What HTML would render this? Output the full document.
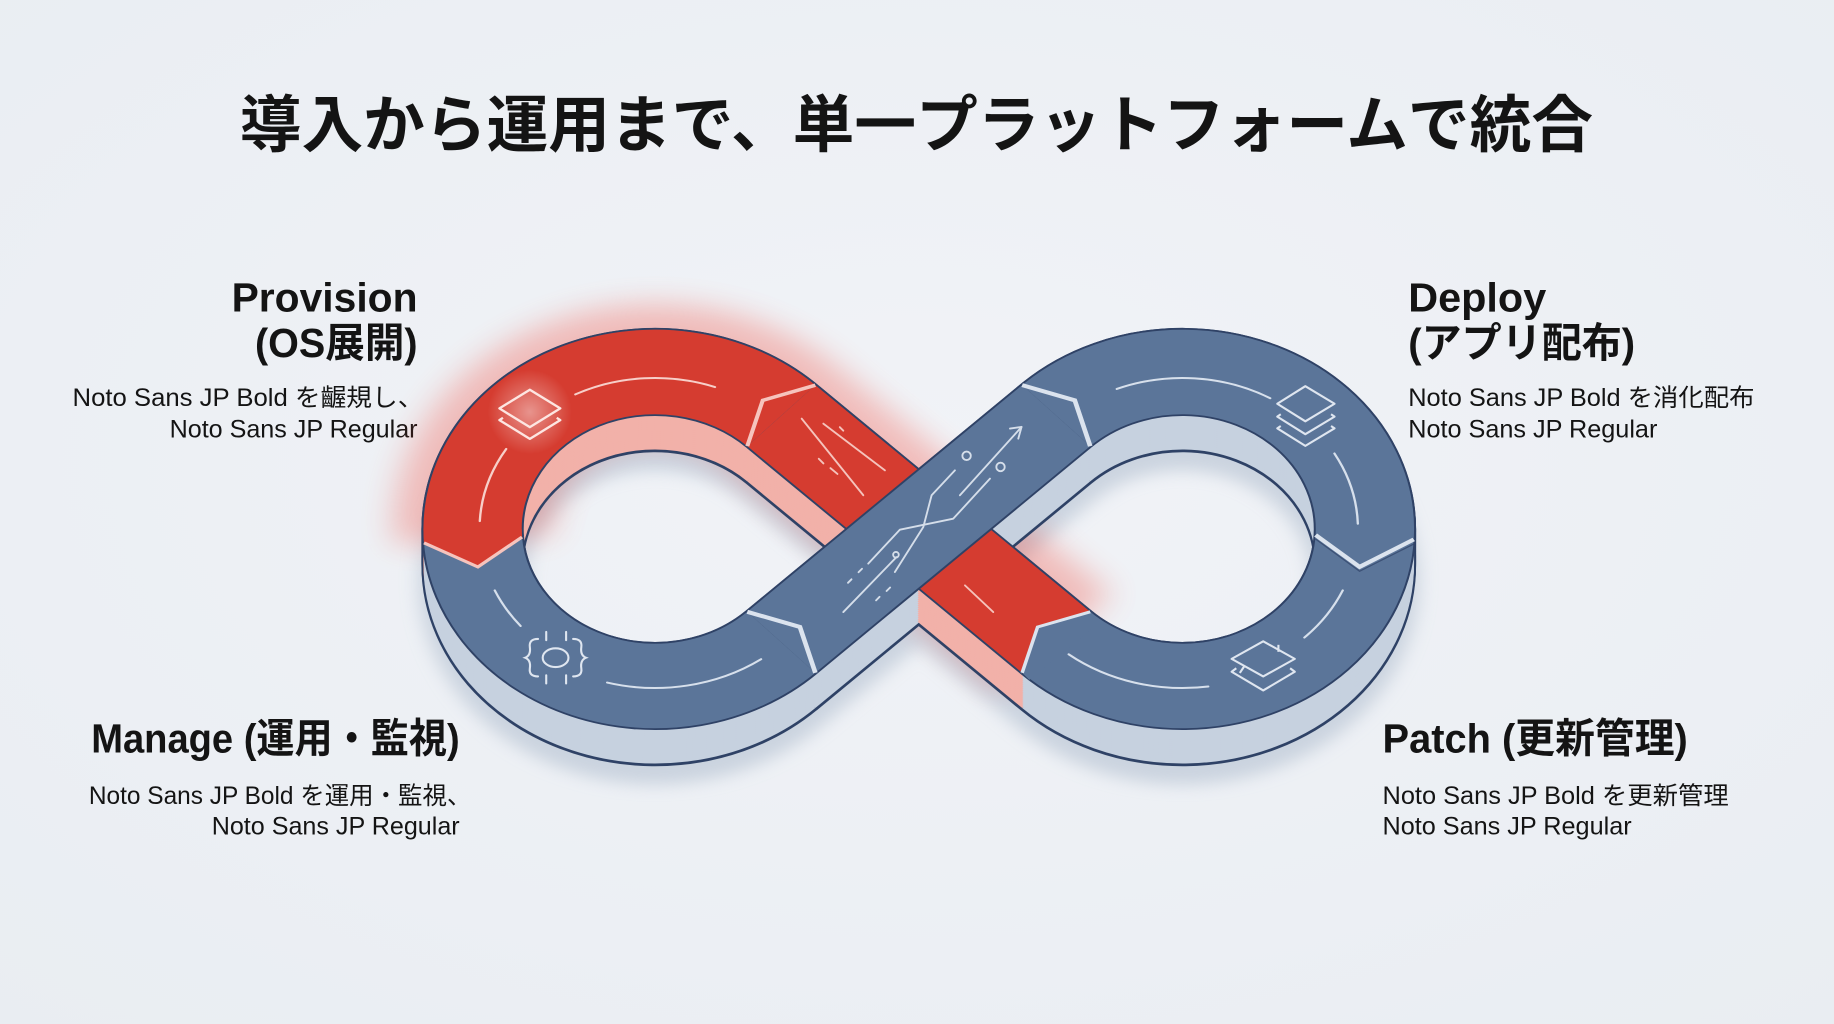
<!DOCTYPE html>
<html><head><meta charset="utf-8"><style>
html,body{margin:0;padding:0;background:#eef1f5;overflow:hidden;}
svg{display:block;}
text{font-family:"Liberation Sans","Noto Sans CJK JP",sans-serif;fill:#141414;}
</style></head><body>
<svg width="1834" height="1024" viewBox="0 0 1568 875" preserveAspectRatio="none" xmlns="http://www.w3.org/2000/svg">
<defs>
<path id="pAll" d="M668,564.6 L903,339.4 A156,156 0 1 1 903,564.6 L668,339.4 A156,156 0 1 0 668,564.6 Z"/>
<path id="pA" d="M668,564.6 L903,339.4"/>
<path id="pB" d="M903,339.4 A156,156 0 1 1 903,564.6"/>
<path id="pC" d="M903,564.6 L668,339.4"/>
<path id="pDr" d="M668,339.4 A156,156 0 0 0 404.4,462.9"/>
<path id="pDb" d="M404.4,462.9 A156,156 0 0 0 668,564.6"/>
<g id="wallSet" fill="none" stroke-width="84">
<use href="#pA" stroke="#c6d1df"/><use href="#pB" stroke="#c6d1df"/><use href="#pDb" stroke="#c6d1df"/>
<use href="#pDr" stroke="#f2b1a9"/><use href="#pC" stroke="#f2b1a9"/>
</g>
<filter id="blurA" filterUnits="userSpaceOnUse" x="-200" y="-200" width="2000" height="1400"><feGaussianBlur stdDeviation="14"/></filter>
<filter id="blurB" filterUnits="userSpaceOnUse" x="-200" y="-200" width="2000" height="1400"><feGaussianBlur stdDeviation="8"/></filter>
<radialGradient id="spot" cx="0.5" cy="0.5" r="0.5"><stop offset="0" stop-color="#ffffff" stop-opacity="0.45"/><stop offset="1" stop-color="#ffffff" stop-opacity="0"/></radialGradient>
<radialGradient id="bg" cx="0.5" cy="0.45" r="0.75"><stop offset="0" stop-color="#f1f3f7"/><stop offset="1" stop-color="#e9edf2"/></radialGradient>
</defs>

<rect x="0" y="0" width="1568" height="875" fill="url(#bg)"/>

<!-- Title -->
<text x="205" y="125" font-size="53" font-weight="700" textLength="1157" lengthAdjust="spacingAndGlyphs">導入から運用まで、単一プラットフォームで統合</text>

<!-- Provision -->
<text x="198" y="266" font-size="35" font-weight="700" textLength="159" lengthAdjust="spacingAndGlyphs">Provision</text>
<text x="218" y="305" font-size="35" font-weight="700" textLength="139" lengthAdjust="spacingAndGlyphs">(OS展開)</text>
<text x="62" y="347" font-size="21" textLength="300" lengthAdjust="spacingAndGlyphs">Noto Sans JP Bold を齷規し、</text>
<text x="145" y="374" font-size="21" textLength="212" lengthAdjust="spacingAndGlyphs">Noto Sans JP Regular</text>

<!-- Deploy -->
<text x="1204" y="266" font-size="35" font-weight="700" textLength="118" lengthAdjust="spacingAndGlyphs">Deploy</text>
<text x="1204" y="305" font-size="35" font-weight="700" textLength="194" lengthAdjust="spacingAndGlyphs">(アプリ配布)</text>
<text x="1204" y="347" font-size="21" textLength="296" lengthAdjust="spacingAndGlyphs">Noto Sans JP Bold を消化配布</text>
<text x="1204" y="374" font-size="21" textLength="213" lengthAdjust="spacingAndGlyphs">Noto Sans JP Regular</text>

<!-- Manage -->
<text x="78" y="643" font-size="35" font-weight="700" textLength="315" lengthAdjust="spacingAndGlyphs">Manage (運用・監視)</text>
<text x="76" y="687" font-size="21" textLength="327" lengthAdjust="spacingAndGlyphs">Noto Sans JP Bold を運用・監視、</text>
<text x="181" y="713" font-size="21" textLength="212" lengthAdjust="spacingAndGlyphs">Noto Sans JP Regular</text>

<!-- Patch -->
<text x="1182" y="643" font-size="35" font-weight="700" textLength="261" lengthAdjust="spacingAndGlyphs">Patch (更新管理)</text>
<text x="1182" y="687" font-size="21" textLength="296" lengthAdjust="spacingAndGlyphs">Noto Sans JP Bold を更新管理</text>
<text x="1182" y="713" font-size="21" textLength="213" lengthAdjust="spacingAndGlyphs">Noto Sans JP Regular</text>

<!-- Infinity figure (unsquashed coordinates, squashed vertically) -->
<g transform="matrix(1 0 0 0.86 0 63.28)">
  <!-- drop shadow -->
  <use href="#pAll" y="52" fill="none" stroke="#bcc7d6" stroke-width="92" opacity="0.7" filter="url(#blurB)"/>
  <!-- red glow -->
  <g fill="none" stroke="#f2493b" stroke-width="135" opacity="0.32" filter="url(#blurA)">
    <use href="#pDr"/><use href="#pC"/>
  </g>

  <!-- extrusion outline (union) -->
  <g fill="none" stroke="#2f4266" stroke-width="87.5">
    <use href="#pAll" y="36"/><use href="#pAll" y="34"/><use href="#pAll" y="32"/><use href="#pAll" y="30"/>
    <use href="#pAll" y="28"/><use href="#pAll" y="26"/><use href="#pAll" y="24"/><use href="#pAll" y="22"/>
    <use href="#pAll" y="20"/><use href="#pAll" y="18"/><use href="#pAll" y="16"/><use href="#pAll" y="14"/>
    <use href="#pAll" y="12"/><use href="#pAll" y="10"/><use href="#pAll" y="8"/><use href="#pAll" y="6"/>
    <use href="#pAll" y="4"/><use href="#pAll" y="2"/><use href="#pAll" y="0"/>
  </g>
  <!-- extrusion walls -->
  <use href="#wallSet" y="35"/><use href="#wallSet" y="33"/><use href="#wallSet" y="31"/><use href="#wallSet" y="29"/>
  <use href="#wallSet" y="27"/><use href="#wallSet" y="25"/><use href="#wallSet" y="23"/><use href="#wallSet" y="21"/>
  <use href="#wallSet" y="19"/><use href="#wallSet" y="17"/><use href="#wallSet" y="15"/><use href="#wallSet" y="13"/>
  <use href="#wallSet" y="11"/><use href="#wallSet" y="9"/><use href="#wallSet" y="7"/><use href="#wallSet" y="5"/>
  <use href="#wallSet" y="3"/><use href="#wallSet" y="1"/>

  <!-- top faces: loops -->
  <g fill="none" stroke="#2f4266" stroke-width="87.5">
    <use href="#pDr"/><use href="#pDb"/><use href="#pB"/>
  </g>
  <use href="#pDb" fill="none" stroke="#5b7599" stroke-width="84"/>
  <use href="#pB" fill="none" stroke="#5b7599" stroke-width="84"/>
  <use href="#pDr" fill="none" stroke="#d53c30" stroke-width="84"/>
  <!-- left red arrow tip -->
  <polygon points="362.5,465.8 408.6,489.7 446.3,460 446,452 362,452" fill="#d53c30"/>
  <polyline points="362.5,465.8 408.6,489.7 446.3,460" fill="none" stroke="#f6c4bd" stroke-width="3"/>
  <!-- right chevron separator -->
  <polyline points="1208.7,462.4 1162.4,489.7 1124.8,458" fill="none" stroke="#dbe3ee" stroke-width="4"/>
  <polyline points="1208.7,467 1162.4,494 1124.8,462" fill="none" stroke="#2f4266" stroke-width="1.2" opacity="0.7"/>

  <!-- red diagonal -->
  <use href="#pC" fill="none" stroke="#2f4266" stroke-width="87.5"/>
  <use href="#pC" fill="none" stroke="#d53c30" stroke-width="84"/>
  <!-- T1 notch separator -->
  <polyline points="697.1,309.1 652.1,324.2 638.9,369.7" fill="none" stroke="#f6c4bd" stroke-width="3.5"/>
  <!-- T4 blue tip into red -->
  <polygon points="873.9,594.9 887.1,549.4 932.1,534.3 940,545 880,602" fill="#5b7599"/>
  <polyline points="873.9,594.9 887.1,549.4 932.1,534.3" fill="none" stroke="#dbe3ee" stroke-width="3"/>

  <!-- blue diagonal on top -->
  <use href="#pA" fill="none" stroke="#2f4266" stroke-width="87.5"/>
  <use href="#pA" fill="none" stroke="#5b7599" stroke-width="84"/>
  <polyline points="697.1,594.9 683.9,549.4 638.9,534.3" fill="none" stroke="#dbe3ee" stroke-width="4"/>
  <polyline points="873.9,309.1 918.9,324.2 932.1,369.7" fill="none" stroke="#dbe3ee" stroke-width="4"/>

  <!-- lane markings -->
  <g fill="none" stroke-width="2" stroke-linecap="round">
    <path d="M491.9,318.3 A150,150 0 0 1 611.3,311" stroke="#f7cfc9"/>
    <path d="M410.2,444.2 A150,150 0 0 1 432.8,372.5" stroke="#f7cfc9"/>
    <path d="M423,513 A150,150 0 0 0 445.1,548.4" stroke="#d7e0ec"/>
    <path d="M519.1,604.6 A158,158 0 0 0 650.7,581.4" stroke="#d7e0ec"/>
    <path d="M954.8,312.9 A150,150 0 0 1 1086,322.1" stroke="#d7e0ec"/>
    <path d="M1140.9,377 A150,150 0 0 1 1160.9,446.8" stroke="#d7e0ec"/>
    <path d="M1148,513 A150,150 0 0 1 1115.2,559.9" stroke="#d7e0ec"/>
    <path d="M1033,608.5 A158,158 0 0 1 913.7,576.5" stroke="#d7e0ec"/>
  </g>
</g>

<!-- icons & details (display coords) -->
<circle cx="453" cy="352" r="36" fill="url(#spot)"/>
<g fill="none" stroke="#fde6e2" stroke-width="2" stroke-linejoin="round">
  <polygon points="427,349 453,333 479,349 453,365"/>
  <polyline points="430,357 427,359 453,375 479,359 476,357"/>
</g>
<g fill="none" stroke="#dfe6f0" stroke-width="1.8" stroke-linejoin="round">
  <polygon points="1092,345 1116,330 1141,345 1116,360"/>
  <polyline points="1095,354 1092,356 1116,371 1141,356 1138,354"/>
  <polyline points="1095,364 1092,366 1116,381 1141,366 1138,364"/>
</g>
<g fill="none" stroke="#dfe6f0" stroke-width="1.8" stroke-linecap="round">
  <ellipse cx="475" cy="562" rx="11" ry="8"/>
  <path d="M460,546 Q452,546 453,553 Q454,560 449,562 Q454,564 453,571 Q452,578 460,578"/>
  <path d="M490,546 Q498,546 497,553 Q496,560 501,562 Q496,564 497,571 Q498,578 490,578"/>
  <line x1="467" y1="540" x2="467" y2="547"/><line x1="484" y1="540" x2="484" y2="547"/>
  <line x1="467" y1="577" x2="467" y2="584"/><line x1="484" y1="577" x2="484" y2="584"/>
</g>
<g fill="none" stroke="#dfe6f0" stroke-width="1.8" stroke-linejoin="round">
  <polygon points="1053,563 1080,548 1107,563 1080,578"/>
  <polyline points="1057,571 1053,574 1080,590 1107,574 1103,571"/>
  <line x1="1093" y1="551" x2="1093" y2="557"/>
  <line x1="1064" y1="569" x2="1060" y2="575"/>
</g>
<!-- blue diagonal circuit -->
<g fill="none" stroke="#d5deea" stroke-width="1.6" stroke-linecap="round" stroke-linejoin="round">
  <polyline points="816.4,401.9 796.5,423.2 789.4,450.3 765.1,488.8"/>
  <polyline points="846.4,409 815,443.2 769.4,452.6 742.3,481.6"/>
  <line x1="766.5" y1="476" x2="721" y2="523"/>
  <line x1="820.7" y1="423.2" x2="873.4" y2="364.8"/>
  <polyline points="863.5,366.2 873.4,364.8 870.6,374.8"/>
  <circle cx="826.4" cy="389.5" r="3.6"/>
  <circle cx="855.4" cy="399" r="3.6"/>
  <circle cx="766" cy="474" r="2.4"/>
  <line x1="725" y1="498" x2="728" y2="495"/><line x1="734" y1="489" x2="737" y2="486"/>
  <line x1="749" y1="513" x2="752" y2="510"/><line x1="758" y1="505" x2="761" y2="502"/>
</g>
<!-- red diagonal details -->
<g fill="none" stroke="#f5c3bc" stroke-width="1.6" stroke-linecap="round">
  <line x1="685.4" y1="357.7" x2="738.1" y2="423.2"/>
  <line x1="703.9" y1="362" x2="756.6" y2="401.9"/>
  <line x1="718" y1="365" x2="721" y2="368"/>
  <line x1="700" y1="392" x2="704" y2="396"/>
  <line x1="710" y1="400" x2="716" y2="405"/>
  <line x1="825" y1="500.2" x2="849.2" y2="523"/>
</g>
</svg>
</body></html>
